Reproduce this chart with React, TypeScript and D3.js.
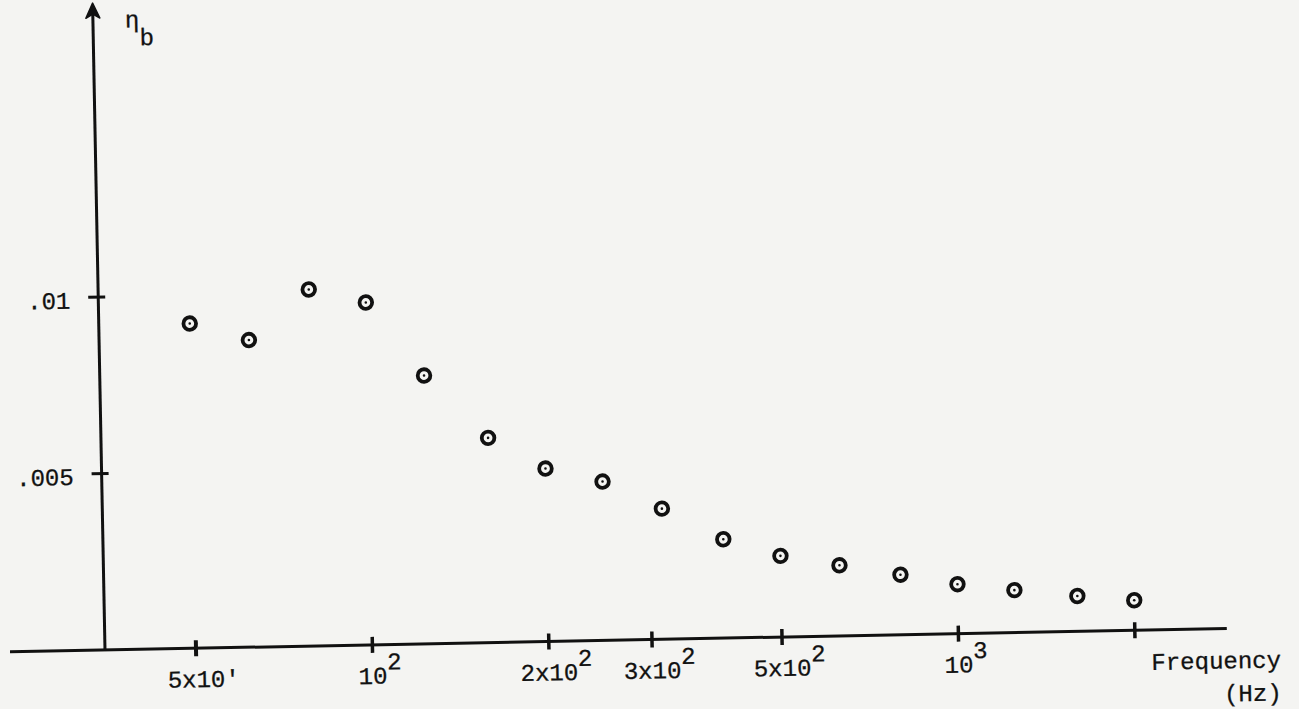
import React, { useEffect, useRef } from "react";
import * as d3 from "d3";

// 1/3-octave band centre frequencies (Hz)
const frequencies = [50, 63, 80, 100, 125, 160, 200, 250, 315, 400, 500, 630, 800, 1000, 1250, 1600, 2000];
// loss factor eta_b
const etaB = [
  0.0092, 0.0087, 0.0101, 0.0097, 0.0076, 0.0058, 0.0049, 0.0045, 0.0037,
  0.0028, 0.0023, 0.002, 0.0017, 0.0014, 0.0012, 0.001, 0.00085,
];

const xTickValues = [50, 100, 200, 300, 500, 1000, 2000];
const xTickBase = ["5x10'", "10", "2x10", "3x10", "5x10", "10", ""];
const xTickExp = ["", "2", "2", "2", "2", "3", ""];

const yTickValues = [0.005, 0.01];
const yTickLabels = [".005", ".01"];

const W = 1299;
const H = 709;
const origin = { x: 105, y: 650 };
const tilt = -1.1; // the scanned page is slightly rotated
const font = "'Liberation Mono', 'DejaVu Sans Mono', monospace";
const fontSize = 24;
const charW = fontSize * 0.6;
const ink = "#111";

const App = () => {
  const svgRef = useRef<SVGSVGElement>(null);

  useEffect(() => {
    const svg = d3.select(svgRef.current);
    svg.selectAll("*").remove();

    svg.append("rect").attr("width", W).attr("height", H).attr("fill", "#f4f4f2");

    const g = svg
      .append("g")
      .attr("transform", `translate(${origin.x},${origin.y}) rotate(${tilt})`);

    // scales (origin of the axes is 0,0 in the group)
    const x = d3.scaleLog().domain([50, 2000]).range([91, 1030]);
    const y = d3.scaleLinear().domain([0, 0.01]).range([0, -353]);

    const addText = (tx: number, ty: number, anchor = "start") =>
      g
        .append("text")
        .attr("x", tx)
        .attr("y", ty)
        .attr("text-anchor", anchor)
        .attr("font-family", font)
        .attr("font-size", fontSize)
        .attr("fill", ink)
        .attr("stroke", ink)
        .attr("stroke-width", 0.3);

    // x axis
    g.append("line")
      .attr("x1", -95)
      .attr("x2", 1122)
      .attr("y1", 0)
      .attr("y2", 0)
      .attr("stroke", ink)
      .attr("stroke-width", 3);

    // y axis with arrow
    g.append("line")
      .attr("x1", 0)
      .attr("x2", 0)
      .attr("y1", 0)
      .attr("y2", -638)
      .attr("stroke", ink)
      .attr("stroke-width", 3);
    g.append("path")
      .attr("d", "M0,-647 L-7,-632 L0,-636 L7,-632 Z")
      .attr("fill", ink)
      .attr("stroke", ink)
      .attr("stroke-width", 1.5)
      .attr("stroke-linejoin", "round");

    // x ticks + labels
    xTickValues.forEach((v, i) => {
      g.append("line")
        .attr("x1", x(v))
        .attr("x2", x(v))
        .attr("y1", -8)
        .attr("y2", 8)
        .attr("stroke", ink)
        .attr("stroke-width", i === 0 ? 4 : 3.5);
      if (!xTickBase[i]) return;
      const baseLen = xTickBase[i].replace("'", "").length;
      const t = addText(x(v) - (baseLen * charW) / 2, 39);
      t.append("tspan").text(xTickBase[i]);
      if (xTickExp[i]) t.append("tspan").attr("dy", -14).text(xTickExp[i]);
    });

    // y ticks + labels
    yTickValues.forEach((v, i) => {
      g.append("line")
        .attr("x1", -10)
        .attr("x2", 7)
        .attr("y1", y(v))
        .attr("y2", y(v))
        .attr("stroke", ink)
        .attr("stroke-width", 3);
      addText(-28, y(v) + 11, "end").text(yTickLabels[i]);
    });

    // axis titles
    const yTitle = addText(32, -622);
    yTitle.append("tspan").text("η");
    yTitle.append("tspan").attr("dy", 18).text("b");

    addText(1046, 40).text("Frequency");
    addText(1118, 73).text("(Hz)");

    // data points: ringed dots
    const pts = g
      .selectAll("g.pt")
      .data(frequencies)
      .enter()
      .append("g")
      .attr("class", "pt")
      .attr("transform", (d, i) => `translate(${x(d)},${y(etaB[i])})`);
    pts
      .append("circle")
      .attr("r", 6.3)
      .attr("fill", "none")
      .attr("stroke", ink)
      .attr("stroke-width", 3.8);
    pts.append("circle").attr("r", 1.3).attr("fill", ink);
  }, []);

  return (
    <svg
      ref={svgRef}
      width={W}
      height={H}
      style={{ position: "absolute", left: 0, top: 0 }}
    ></svg>
  );
};

export default App;
